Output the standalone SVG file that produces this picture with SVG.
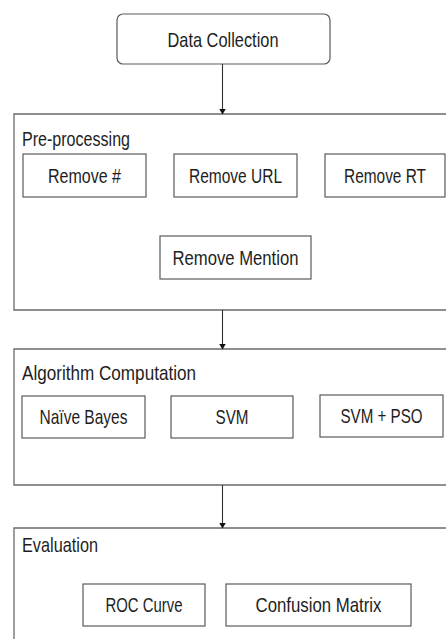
<svg xmlns="http://www.w3.org/2000/svg" width="446" height="639" viewBox="0 0 446 639">
<style>
  .box{fill:#fff;stroke:#5a5a5a;stroke-width:1.2}
  .sec{fill:#fff;stroke:#6a6a6a;stroke-width:1.3}
  .t{font-family:"Liberation Sans",Arial,sans-serif;font-size:21px;fill:#1e1e1e}
  .c{text-anchor:middle}
  .conn{stroke:#333;stroke-width:1.1;fill:none}
</style>
<defs>
  <marker id="ah" markerWidth="6" markerHeight="7" refX="5.5" refY="3.5" orient="auto" markerUnits="userSpaceOnUse">
    <path d="M0,0 L6,3.5 L0,7 Z" fill="#111"/>
  </marker>
</defs>
<rect width="446" height="639" fill="#fff"/>

<g id="data-collection">
  <rect class="box" x="117" y="14" width="213" height="50" rx="6"/>
  <text class="t c" x="223" y="47" textLength="111" lengthAdjust="spacingAndGlyphs">Data Collection</text>
</g>

<g id="preprocessing">
  <path class="sec" d="M446,114 H14 V310 H446"/>
  <text class="t" x="22" y="146" textLength="108" lengthAdjust="spacingAndGlyphs">Pre-processing</text>
</g>
<g id="remove-hash">
  <rect class="box" x="23" y="154" width="123" height="43"/>
  <text class="t c" x="84.5" y="183" textLength="73" lengthAdjust="spacingAndGlyphs">Remove #</text>
</g>
<g id="remove-url">
  <rect class="box" x="174" y="154" width="123" height="43"/>
  <text class="t c" x="235.5" y="183" textLength="93" lengthAdjust="spacingAndGlyphs">Remove URL</text>
</g>
<g id="remove-rt">
  <rect class="box" x="325" y="154" width="120" height="43"/>
  <text class="t c" x="385" y="183" textLength="82" lengthAdjust="spacingAndGlyphs">Remove RT</text>
</g>
<g id="remove-mention">
  <rect class="box" x="160" y="236" width="151" height="43"/>
  <text class="t c" x="235.5" y="265" textLength="126" lengthAdjust="spacingAndGlyphs">Remove Mention</text>
</g>

<g id="algorithm">
  <path class="sec" d="M446,349 H14 V485 H446"/>
  <text class="t" x="22" y="380" textLength="174" lengthAdjust="spacingAndGlyphs">Algorithm Computation</text>
</g>
<g id="naive-bayes">
  <rect class="box" x="22" y="396" width="123" height="42"/>
  <text class="t c" x="83.5" y="424" textLength="88" lengthAdjust="spacingAndGlyphs">Naïve Bayes</text>
</g>
<g id="svm">
  <rect class="box" x="171" y="396" width="122" height="42"/>
  <text class="t c" x="232" y="424" textLength="33" lengthAdjust="spacingAndGlyphs">SVM</text>
</g>
<g id="svm-pso">
  <rect class="box" x="320" y="395" width="123" height="42"/>
  <text class="t c" x="381.5" y="423" textLength="82" lengthAdjust="spacingAndGlyphs">SVM + PSO</text>
</g>

<g id="evaluation">
  <path class="sec" d="M446,528 H14 V639"/>
  <text class="t" x="22" y="552" textLength="76" lengthAdjust="spacingAndGlyphs">Evaluation</text>
</g>
<g id="roc-curve">
  <rect class="box" x="83" y="584" width="122" height="42"/>
  <text class="t c" x="144" y="612" textLength="77" lengthAdjust="spacingAndGlyphs">ROC Curve</text>
</g>
<g id="confusion-matrix">
  <rect class="box" x="226" y="584" width="185" height="42"/>
  <text class="t c" x="318.5" y="612" textLength="126" lengthAdjust="spacingAndGlyphs">Confusion Matrix</text>
</g>

<g id="connectors">
  <line class="conn" x1="222.5" y1="64" x2="222.5" y2="114" marker-end="url(#ah)"/>
  <line class="conn" x1="222.5" y1="310" x2="222.5" y2="349" marker-end="url(#ah)"/>
  <line class="conn" x1="222.5" y1="485" x2="222.5" y2="528" marker-end="url(#ah)"/>
</g>
</svg>
